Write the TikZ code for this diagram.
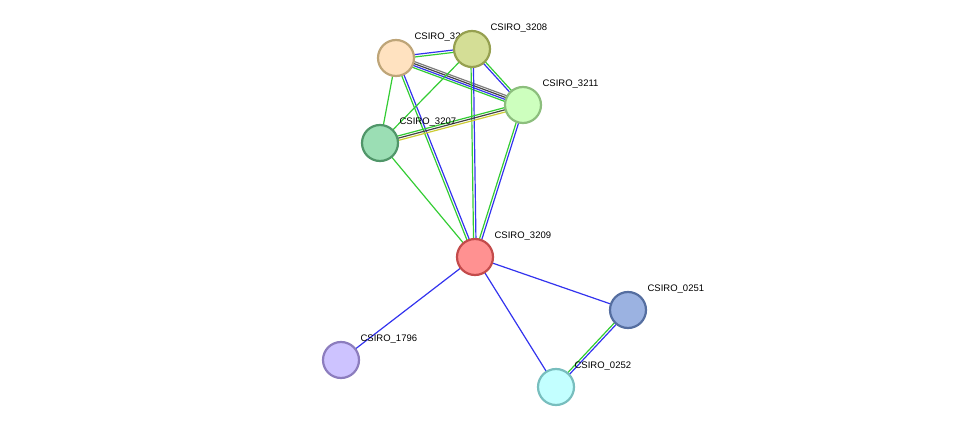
\documentclass[tikz,border=0pt]{standalone}
\usepackage{fontspec}
\setmainfont{Liberation Sans}
\usetikzlibrary{calc}
\definecolor{eg}{HTML}{33CC33}
\definecolor{eb}{HTML}{3333EE}
\definecolor{ek}{HTML}{444444}
\definecolor{ey}{HTML}{CCCC33}
\newcommand\pe[4]{\draw[#4] ($(#1)!#3!90:(#2)$) -- ($(#2)!#3!-90:(#1)$);}
\begin{document}
\begin{tikzpicture}[x=1pt,y=-1pt,line width=1.2pt,
 nd/.style={circle,minimum size=36pt,inner sep=0pt,line width=2.2pt},
 lb/.style={anchor=west,font=\fontsize{9.5}{11}\selectfont,inner sep=0pt}]
\useasboundingbox (0,0) rectangle (975,433);
\coordinate (a) at (396,58);
\coordinate (b) at (472,49);
\coordinate (c) at (523,105);
\coordinate (d) at (380,143);
\coordinate (e) at (475,257);
\coordinate (f) at (628,310);
\coordinate (g) at (556,387);
\coordinate (h) at (341,360);
\pe{a}{b}{-1.2pt}{eg}\pe{a}{b}{1.2pt}{eb}
\pe{a}{c}{-3pt}{eg}\pe{a}{c}{-1pt}{eb}\pe{a}{c}{1pt}{ek}\pe{a}{c}{3pt}{ek!70}
\pe{a}{d}{0pt}{eg}
\pe{a}{e}{-1.2pt}{eg}\pe{a}{e}{1.2pt}{eb}
\pe{b}{c}{-1.2pt}{eb}\pe{b}{c}{1.2pt}{eg}
\pe{b}{d}{0pt}{eg}
\pe{b}{e}{-1.2pt}{eg}\pe{b}{e}{1.2pt}{eb}
\pe{c}{d}{-2.2pt}{eg}\pe{c}{d}{0pt}{ek}\pe{c}{d}{2.2pt}{ey}
\pe{c}{e}{-1.2pt}{eg}\pe{c}{e}{1.2pt}{eb}
\pe{d}{e}{0pt}{eg}
\pe{e}{f}{0pt}{eb}\pe{e}{g}{0pt}{eb}\pe{e}{h}{0pt}{eb}
\pe{f}{g}{-1.2pt}{eg}\pe{f}{g}{1.2pt}{eb}
\node[lb] (la) at (414,37) {CSIRO\_3210};
\node[nd,draw={rgb,255:red,190;green,165;blue,120},fill={rgb,255:red,255;green,226;blue,192}] (na) at (a) {};
\node[nd,draw={rgb,255:red,150;green,160;blue,80},fill={rgb,255:red,212;green,222;blue,150}] (nb) at (b) {};
\node[nd,draw={rgb,255:red,140;green,190;blue,125},fill={rgb,255:red,205;green,255;blue,190}] (nc) at (c) {};
\node[nd,draw={rgb,255:red,80;green,150;blue,105},fill={rgb,255:red,155;green,222;blue,180}] (ndd) at (d) {};
\node[nd,draw={rgb,255:red,195;green,75;blue,75},fill={rgb,255:red,255;green,145;blue,145}] (ne) at (e) {};
\node[nd,draw={rgb,255:red,85;green,110;blue,160},fill={rgb,255:red,155;green,178;blue,225}] (nf) at (f) {};
\node[nd,draw={rgb,255:red,120;green,190;blue,190},fill={rgb,255:red,195;green,255;blue,255}] (ng) at (g) {};
\node[nd,draw={rgb,255:red,140;green,125;blue,190},fill={rgb,255:red,205;green,195;blue,255}] (nh) at (h) {};
\node[lb] (lb) at (490,28) {CSIRO\_3208};
\node[lb] (lc) at (542,84) {CSIRO\_3211};
\node[lb] (ld) at (399,122) {CSIRO\_3207};
\node[lb] (le) at (494,236) {CSIRO\_3209};
\node[lb] (lf) at (647,289) {CSIRO\_0251};
\node[lb] (lg) at (574,366) {CSIRO\_0252};
\node[lb] (lh) at (360,339) {CSIRO\_1796};
\end{tikzpicture}
\end{document}
